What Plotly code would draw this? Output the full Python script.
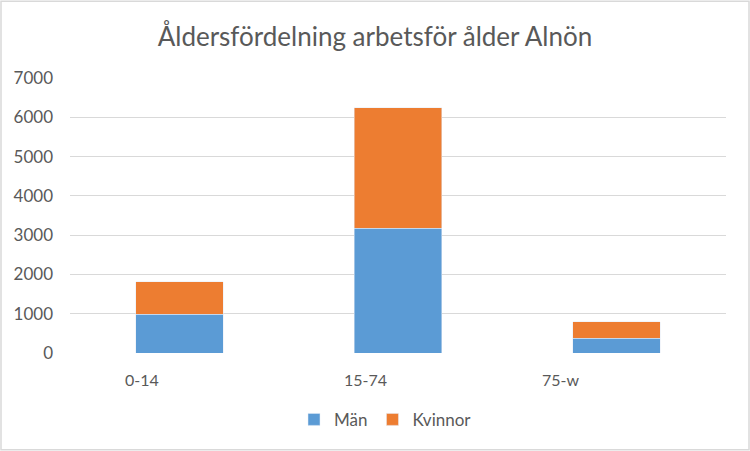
import plotly.graph_objects as go

# Åldersgrupper och antal per kön
aldersgrupper = ['0-14', '15-74', '75-w']
man = [990, 3170, 380]
kvinnor = [830, 3070, 410]

# etiketterna i originalet sitter lite till vänster om staplarna
etikett_forskjutning = [-37, -33, -56]

fig = go.Figure()
fig.add_trace(go.Bar(x=aldersgrupper, y=man, name='Män', marker_color='#5B9BD5'))
fig.add_trace(go.Bar(x=aldersgrupper, y=kvinnor, name='Kvinnor', marker_color='#ED7D31'))

for grupp, skift in zip(aldersgrupper, etikett_forskjutning):
    fig.add_annotation(x=grupp, y=0, xref='x', yref='y', text=grupp, showarrow=False,
                       xshift=skift, yshift=-26, font=dict(size=16, color='#595959'))

fig.update_layout(
    width=750, height=451,
    barmode='stack', bargap=0.6,
    font=dict(family='Lato, Open Sans, sans-serif', color='#595959'),
    title=dict(text='Åldersfördelning arbetsför ålder Alnön', x=0.5, xanchor='center',
               y=0.918, yanchor='middle', font=dict(size=26, color='#595959')),
    margin=dict(l=70, r=24, t=78, b=98),
    paper_bgcolor='white', plot_bgcolor='white',
    legend=dict(orientation='h', x=(294 - 70) / 656, xanchor='left', y=-0.243, yanchor='middle',
                font=dict(size=17, color='#595959'), traceorder='normal', itemwidth=30),
    showlegend=True,
)
fig.update_xaxes(showticklabels=False, showgrid=False, showline=False, zeroline=False)
fig.update_yaxes(range=[0, 7000], dtick=1000, gridcolor='#D9D9D9', gridwidth=1.3,
                 zeroline=False, showline=False, ticklabelstandoff=16,
                 tickfont=dict(size=17, color='#595959'))
# ram runt hela diagrammet
fig.add_shape(type='rect', xref='paper', yref='paper',
              x0=-69/656, x1=1 + 23/656, y0=-97/275.6, y1=1 + 77/275.6,
              line=dict(color='#D9D9D9', width=1.5))

fig.write_html('out.html', config={'displayModeBar': False},
               post_script="document.body.style.margin='0';")
